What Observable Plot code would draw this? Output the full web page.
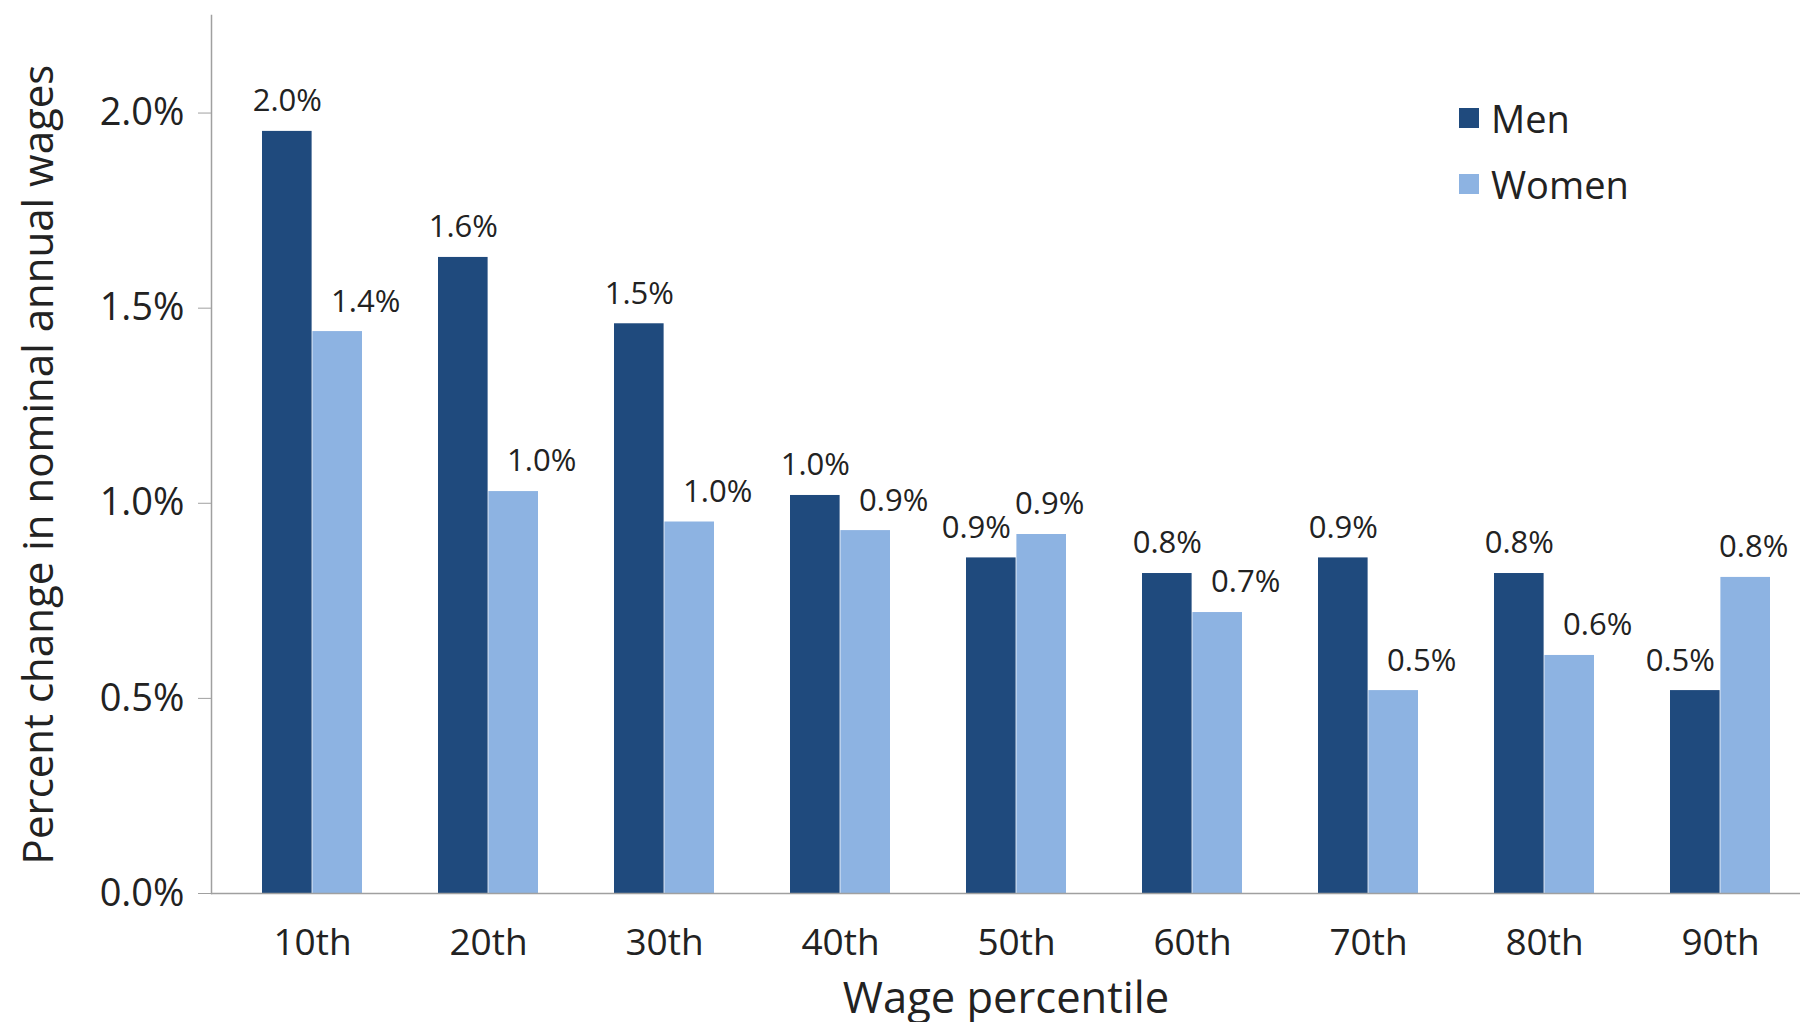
<!DOCTYPE html>
<html><head><meta charset="utf-8">
<script src="https://cdn.jsdelivr.net/npm/d3@7"></script>
<script src="https://cdn.jsdelivr.net/npm/@observablehq/plot@0.6"></script>
<style>
html,body{margin:0;padding:0;background:#fff;}
#chart{position:relative;width:1800px;height:1022px;overflow:hidden;}
#legend{position:absolute;left:1459px;top:85px;}
#legend .lg-swatch{height:66px;padding-bottom:0;align-items:center;}
#legend .lg-swatch svg{margin-right:12px;}
</style></head><body><div id="chart"><div id="legend"></div></div>
<script>
const percentiles = ["10th","20th","30th","40th","50th","60th","70th","80th","90th"];
const menValues   = [1.953, 1.63, 1.46, 1.02, 0.86, 0.82, 0.86, 0.82, 0.52];
const womenValues = [1.44, 1.03, 0.952, 0.93, 0.92, 0.72, 0.52, 0.61, 0.81];
const series = ["Men", "Women"];
const seriesColors = ["#1f4a7d", "#8db3e2"];
const yTicks = [0, 0.5, 1.0, 1.5, 2.0];
const xTitle = "Wage percentile";
const yTitle = "Percent change in nominal annual wages";

const rows = percentiles.flatMap((p, i) => [
  {pct: p, series: "Men", value: menValues[i], other: womenValues[i]},
  {pct: p, series: "Women", value: womenValues[i], other: menValues[i]}
]);
const men = rows.filter(d => d.series === "Men");
const women = rows.filter(d => d.series === "Women");

const W = 1800, H = 1022, mL = 211, mR = 0, mT = 15, mB = 129;
const xOpts = {domain: percentiles, paddingInner: 0.43, paddingOuter: 0.209, align: 0.63};
const bw = d3.scaleBand().domain(percentiles).range([mL, W - mR])
  .paddingInner(xOpts.paddingInner).paddingOuter(xOpts.paddingOuter).align(xOpts.align).bandwidth();
const half = bw / 2;
const fmt = d => d.toFixed(1) + "%";
const labelFont = 31;

const plot = Plot.plot({
  width: W, height: H,
  marginLeft: mL, marginRight: mR, marginTop: mT, marginBottom: mB,
  style: {fontFamily: "'Open Sans', sans-serif", color: "#222", background: "#fff", overflow: "visible"},
  x: {...xOpts, label: null},
  y: {domain: [0, 2.25], label: null},
  marks: [
    Plot.barY(men, {x: "pct", y: "value", fill: seriesColors[0], insetRight: half}),
    Plot.barY(women, {x: "pct", y: "value", fill: seriesColors[1], insetLeft: half}),
    Plot.ruleY([0], {stroke: "#a0a0a0", strokeWidth: 1.5}),
    Plot.frame({anchor: "left", stroke: "#a0a0a0", strokeWidth: 1.5}),
    Plot.axisY({ticks: yTicks, tickFormat: fmt, tickSize: 13, tickPadding: 14, fontSize: 38, stroke: "#a0a0a0", fill: "#222", label: null}),
    Plot.axisX({tickSize: 0, tickPadding: 35, fontSize: 37, fill: "#222", label: null}),
    // data labels: men
    Plot.text(men.filter(d => d.value >= d.other), {x: "pct", y: "value", text: d => fmt(d.value), dx: -half / 2, dy: -30, lineAnchor: "middle", fontSize: labelFont, fill: "#222"}),
    Plot.text(men.filter(d => d.value < d.other), {x: "pct", y: "value", text: d => fmt(d.value), dx: -half / 2 - 15, dy: -30, lineAnchor: "middle", fontSize: labelFont, fill: "#222"}),
    // data labels: women
    Plot.text(women.filter(d => d.value <= d.other), {x: "pct", y: "value", text: d => fmt(d.value), dx: half / 2 + 28, dy: -30, lineAnchor: "middle", fontSize: labelFont, fill: "#222"}),
    Plot.text(women.filter(d => d.value > d.other), {x: "pct", y: "value", text: d => fmt(d.value), dx: half / 2 + 8, dy: -30, lineAnchor: "middle", fontSize: labelFont, fill: "#222"}),
    // titles
    Plot.text([xTitle], {text: d => d, frameAnchor: "bottom", textAnchor: "middle", dy: 106, lineAnchor: "middle", fontSize: 43.5, fill: "#222"}),
    Plot.text([yTitle], {text: d => d, frameAnchor: "left", textAnchor: "middle", dx: -172, dy: 10, rotate: -90, lineAnchor: "middle", fontSize: 42, fill: "#222"})
  ]
});
document.getElementById("chart").prepend(plot);

const legend = Plot.legend({
  color: {domain: series, range: seriesColors},
  legend: "swatches", columns: 1, swatchSize: 20, className: "lg",
  style: {fontSize: "38px", fontFamily: "'Open Sans', sans-serif", color: "#222"}
});
document.getElementById("legend").appendChild(legend);
</script>
</body></html>
